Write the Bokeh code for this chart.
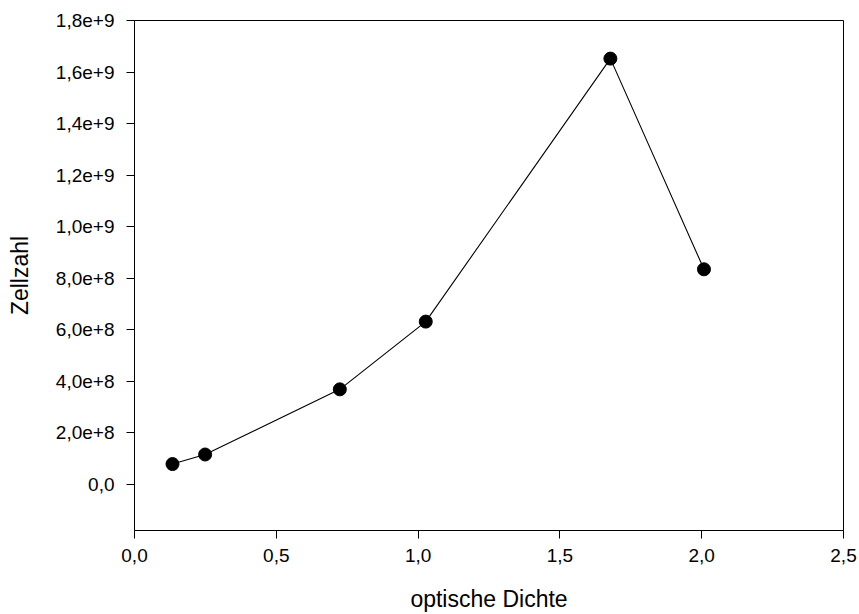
from bokeh.plotting import figure
from bokeh.models import Range1d, FixedTicker
from bokeh.embed import file_html
from bokeh.resources import INLINE

# Optical density vs. cell count
optische_dichte = [0.134, 0.249, 0.724, 1.027, 1.678, 2.008]
zellzahl = [7.8e7, 1.15e8, 3.68e8, 6.31e8, 1.652e9, 8.34e8]

x_ticks = [0.0, 0.5, 1.0, 1.5, 2.0, 2.5]
x_tick_labels = ["0,0", "0,5", "1,0", "1,5", "2,0", "2,5"]
y_ticks = [0, 2e8, 4e8, 6e8, 8e8, 1e9, 1.2e9, 1.4e9, 1.6e9, 1.8e9]
y_tick_labels = ["0,0", "2,0e+8", "4,0e+8", "6,0e+8", "8,0e+8",
                 "1,0e+9", "1,2e+9", "1,4e+9", "1,6e+9", "1,8e+9"]

FONT = "Liberation Sans"

p = figure(width=859, height=614, output_backend="svg", toolbar_location=None,
           x_range=Range1d(0, 2.5), y_range=Range1d(-1.8e8, 1.8e9),
           min_border_left=134, min_border_right=16,
           min_border_top=20, min_border_bottom=84)

p.background_fill_color = "white"
p.border_fill_color = "white"
p.outline_line_color = "black"
p.outline_line_width = 1
p.grid.visible = False

p.line(optische_dichte, zellzahl, line_color="black", line_width=1.1)
p.scatter(optische_dichte, zellzahl, size=13, fill_color="black",
          line_color="black")

p.xaxis.ticker = FixedTicker(ticks=x_ticks)
p.xaxis.major_label_overrides = {t: l for t, l in zip(x_ticks, x_tick_labels)}
p.yaxis.ticker = FixedTicker(ticks=y_ticks)
p.yaxis.major_label_overrides = {t: l for t, l in zip(y_ticks, y_tick_labels)}

p.xaxis.axis_label = "optische Dichte"
p.yaxis.axis_label = "Zellzahl"

for ax in (p.xaxis, p.yaxis):
    ax.axis_line_color = "black"
    ax.major_tick_line_color = "black"
    ax.major_tick_out = 8
    ax.major_tick_in = 0
    ax.minor_tick_line_color = None
    ax.major_label_text_font = FONT
    ax.major_label_text_font_size = "19px"
    ax.major_label_text_color = "black"
    ax.axis_label_text_font = FONT
    ax.axis_label_text_font_size = "23px"
    ax.axis_label_text_font_style = "normal"
    ax.axis_label_text_color = "black"

p.xaxis.major_label_standoff = 10
p.yaxis.major_label_standoff = 12
p.xaxis.axis_label_standoff = 21
p.yaxis.axis_label_standoff = 20

open("out.html", "w").write(file_html(p, INLINE))
